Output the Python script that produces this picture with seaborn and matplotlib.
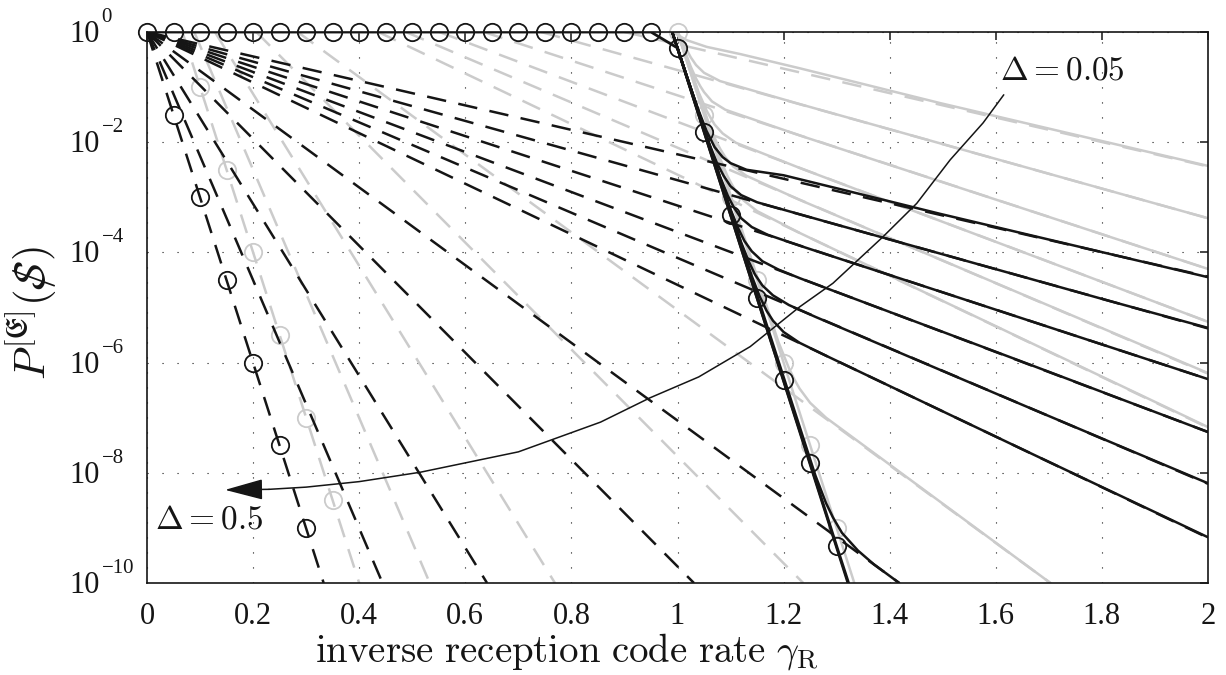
import numpy as np
import pandas as pd
import matplotlib
matplotlib.use("Agg")
import matplotlib.pyplot as plt
from matplotlib.ticker import FixedLocator, FixedFormatter, NullLocator, NullFormatter
from matplotlib.transforms import offset_copy
import seaborn as sns

# ---------------- data (log10 of P) ----------------
# black dashed lines: all start at (0, 10^0)
black_dash_end_x = [2.0, 2.0, 2.0, 2.0, 2.0, 2.0, 1.418, 1.031, 0.641, 0.444, 0.333]
black_dash_end_e = [-4.44, -5.38, -6.30, -7.26, -8.20, -9.18, -10, -10, -10, -10, -10]

# gray dashed lines: start on the top edge, end on right / bottom edge
gray_dash_start_x = [0.90, 0.743, 0.635, 0.551, 0.488, 0.436, 0.284, 0.206, 0.128, 0.089, 0.0667]
gray_dash_end_x = [2.0, 2.0, 2.0, 2.0, 2.0, 2.0, 1.703, 1.237, 0.769, 0.533, 0.40]
gray_dash_end_e = [-2.44, -3.38, -4.30, -5.26, -6.20, -7.18, -10, -10, -10, -10, -10]

# black solid curves
black_solid_x = [
    [0.99, 1.02, 1.04, 1.055, 1.07, 1.085, 1.10, 1.13, 1.2, 1.306, 1.495, 2.0],
    [0.99, 1.06, 1.075, 1.087, 1.10, 1.12, 1.15, 1.231, 1.81, 2.0],
    [0.99, 1.08, 1.095, 1.106, 1.12, 1.14, 1.17, 1.231, 1.546, 2.0],
    [0.99, 1.10, 1.115, 1.126, 1.14, 1.16, 1.19, 1.231, 1.646, 2.0],
    [0.99, 1.12, 1.135, 1.146, 1.16, 1.18, 1.21, 1.26, 1.646, 2.0],
    [0.99, 1.14, 1.155, 1.168, 1.18, 1.20, 1.23, 1.28, 1.646, 2.0],
    [0.99, 1.26, 1.28, 1.293, 1.31, 1.34, 1.37, 1.418],
    [0.99, 1.321],
]
black_solid_e = [
    [0, -0.88, -1.43, -1.80, -2.09, -2.27, -2.38, -2.50, -2.60, -2.85, -3.30, -4.45],
    [0, -2.03, -2.39, -2.61, -2.80, -2.96, -3.09, -3.31, -4.87, -5.37],
    [0, -2.62, -2.975, -3.18, -3.38, -3.54, -3.68, -3.88, -4.87, -6.30],
    [0, -3.22, -3.575, -3.79, -3.98, -4.16, -4.31, -4.47, -5.97, -7.26],
    [0, -3.82, -4.18, -4.40, -4.60, -4.78, -4.955, -5.17, -6.75, -8.19],
    [0, -4.43, -4.80, -5.06, -5.24, -5.445, -5.64, -5.875, -7.555, -9.17],
    [0, -8.05, -8.55, -8.81, -9.09, -9.41, -9.66, -10.0],
    [0, -10.0],
]

# gray solid curves
gray_solid_x = [
    [0.99, 1.018, 1.055, 1.118, 1.231, 1.495, 2.0],
    [1.0, 1.01, 1.02, 1.025, 1.035, 1.05, 1.08, 1.231, 2.0],
    [1.0, 1.01, 1.025, 1.035, 1.043, 1.05, 1.065, 1.09, 1.231, 2.0],
    [1.0, 1.04, 1.055, 1.062, 1.07, 1.085, 1.11, 1.231, 2.0],
    [1.0, 1.06, 1.073, 1.081, 1.09, 1.105, 1.13, 1.231, 2.0],
    [1.0, 1.08, 1.094, 1.102, 1.11, 1.125, 1.15, 1.231, 2.0],
    [1.0, 1.19, 1.21, 1.22, 1.23, 1.25, 1.28, 1.703],
]
gray_solid_e = [
    [0, -0.15, -0.27, -0.40, -0.66, -1.29, -2.43],
    [0, -0.16, -0.37, -0.46, -0.60, -0.74, -0.89, -1.31, -3.38],
    [0, -0.25, -0.63, -0.845, -0.985, -1.09, -1.26, -1.41, -1.88, -4.30],
    [0, -1.10, -1.43, -1.55, -1.68, -1.84, -2.01, -2.47, -5.26],
    [0, -1.69, -1.985, -2.13, -2.27, -2.44, -2.61, -3.05, -6.19],
    [0, -2.29, -2.61, -2.76, -2.89, -3.06, -3.25, -3.65, -7.17],
    [0, -5.62, -6.10, -6.30, -6.47, -6.73, -7.00, -10.0],
]

# circle-marked curves
blk_circ_x = [0, 0.05, 0.1, 0.15, 0.2, 0.25, 0.3, 0.35, 0.4, 0.45, 0.5, 0.55, 0.6, 0.65,
              0.7, 0.75, 0.8, 0.85, 0.9, 0.95, 1.0, 1.05, 1.1, 1.15, 1.2, 1.25, 1.3, 1.3225]
blk_circ_e = [0] * 20 + [-0.29, -1.81, -3.32, -4.83, -6.32, -7.82, -9.33, -10.0]
blk_dcirc_x = [0.05, 0.1, 0.15, 0.2, 0.25, 0.3]
blk_dcirc_e = [-1.5, -3.0, -4.5, -6.0, -7.5, -9.0]
gry_dcirc_x = [0.1, 0.15, 0.2, 0.25, 0.3, 0.35]
gry_dcirc_e = [-1.0, -2.5, -4.0, -5.5, -7.0, -8.5]
gry_circ_x = [0, 1.0, 1.05, 1.1, 1.15, 1.2, 1.25, 1.3, 1.3333]
gry_circ_e = [0, 0, -1.5, -3.0, -4.5, -6.0, -7.5, -9.0, -10.0]

# annotation arrow path
arrow_x = [1.615, 1.576, 1.514, 1.451, 1.387, 1.293, 1.23, 1.137, 1.04, 0.948, 0.855,
           0.70, 0.515, 0.40, 0.30, 0.23]
arrow_e = [-1.14, -1.65, -2.32, -3.11, -3.72, -4.56, -4.99, -5.71, -6.26, -6.64, -7.08,
           -7.62, -7.99, -8.16, -8.26, -8.30]
arrow_tip = (0.147, -8.31)

x_ticks = [0, 0.2, 0.4, 0.6, 0.8, 1.0, 1.2, 1.4, 1.6, 1.8, 2.0]
x_ticklabels = ["0", "0.2", "0.4", "0.6", "0.8", "1", "1.2", "1.4", "1.6", "1.8", "2"]
y_ticks_e = [0, -2, -4, -6, -8, -10]
y_tick_exp_labels = ["0", "\u22122", "\u22124", "\u22126", "\u22128", "\u221210"]

# ---------------- styling ----------------
sns.set_theme(style="white")
plt.rcParams["font.family"] = ["Liberation Serif", "DejaVu Serif"]
plt.rcParams["mathtext.fontset"] = "stix"
plt.rcParams["lines.scale_dashes"] = False

BLACK = "#151515"
GRAY = "#cbcbcb"
DASH = (0, (14, 9))
LW = 1.8

fig = plt.figure(figsize=(12.26, 6.75), dpi=100)
ax = fig.add_axes([147 / 1226, 1 - 583 / 675, (1208 - 147) / 1226, (583 - 32) / 675])
ax.set_yscale("log")


def P(e):
    return np.power(10.0, np.asarray(e, dtype=float))


def line(xs, es, color, ls="-", lw=LW, z=2):
    df = pd.DataFrame({"x": xs, "y": P(es)})
    sns.lineplot(data=df, x="x", y="y", ax=ax, color=color, linestyle=ls,
                 linewidth=lw, estimator=None, sort=False, zorder=z)


# gray dashed
for sx, ex, ee in zip(gray_dash_start_x, gray_dash_end_x, gray_dash_end_e):
    line([sx, ex], [0, ee], GRAY, DASH, z=2)
# gray solid
for xs, es in zip(gray_solid_x, gray_solid_e):
    line(xs, es, GRAY, "-", z=2.2)
line(gry_circ_x, gry_circ_e, GRAY, "-", z=2.2)

# black dashed
for ex, ee in zip(black_dash_end_x, black_dash_end_e):
    line([0, ex], [0, ee], BLACK, DASH, z=3)
# black solid
for xs, es in zip(black_solid_x, black_solid_e):
    line(xs, es, BLACK, "-", z=3.2)
line(blk_circ_x, blk_circ_e, BLACK, "-", lw=2.0, z=3.3)

# circle markers
mk = dict(linestyle="none", marker="o", markersize=12.5, markerfacecolor="none",
          markeredgewidth=1.3, clip_on=False)
ax.plot(gry_circ_x[1:8], P(gry_circ_e[1:8]), markeredgecolor=GRAY, zorder=2.5, **mk)
ax.plot(gry_dcirc_x, P(gry_dcirc_e), markeredgecolor=GRAY, zorder=2.5, **mk)
ax.plot(blk_dcirc_x, P(blk_dcirc_e), markeredgecolor=BLACK, zorder=4, **mk)
ax.plot(blk_circ_x[:27], P(blk_circ_e[:27]), markeredgecolor=BLACK, zorder=4, **mk)

# annotation curve + arrow
ax.plot(arrow_x, P(arrow_e), color=BLACK, linewidth=1.1, zorder=5)
ax.annotate("", xy=(arrow_tip[0], P(arrow_tip[1])),
            xytext=(arrow_x[-1], P(arrow_e[-1])),
            arrowprops=dict(arrowstyle="-|>,head_length=2.4,head_width=0.65",
                            mutation_scale=10, color=BLACK, lw=1.1,
                            shrinkA=0, shrinkB=0), zorder=5)
ax.text(1.608, P(-0.72), r"$\Delta = 0.05$", fontsize=24, ha="left", va="center",
        color=BLACK, zorder=6, math_fontfamily="cm")
ax.text(0.015, P(-8.87), r"$\Delta = 0.5$", fontsize=24, ha="left", va="center",
        color=BLACK, zorder=6, math_fontfamily="cm")

# axes
ax.set_xlim(0, 2)
ax.set_ylim(1e-10, 1)
ax.xaxis.set_major_locator(FixedLocator(x_ticks))
ax.xaxis.set_major_formatter(FixedFormatter(x_ticklabels))
ax.yaxis.set_major_locator(FixedLocator(P(y_ticks_e)))
ax.yaxis.set_major_formatter(NullFormatter())
ax.yaxis.set_minor_locator(NullLocator())
ax.xaxis.set_minor_locator(NullLocator())
ax.tick_params(axis="both", which="major", direction="in", length=6, width=1.1,
               top=True, right=True, labelsize=22, colors=BLACK)
ax.tick_params(axis="x", pad=14)
for sp in ax.spines.values():
    sp.set_linewidth(1.2)
    sp.set_color(BLACK)
    sp.set_zorder(6)
ax.grid(True, which="major", color=BLACK, linestyle=(0, (0.8, 10)), linewidth=0.8)
ax.set_axisbelow(True)

# MATLAB-style log tick labels: "10" with a raised exponent
ytr = ax.get_yaxis_transform()
base_tr = offset_copy(ytr, fig=fig, x=0, y=-10, units="dots")
exp_tr = offset_copy(ytr, fig=fig, x=0, y=10, units="dots")
for e, lab in zip(y_ticks_e, y_tick_exp_labels):
    ax.text(-0.0443, P(e), "10", transform=base_tr, ha="right", va="baseline",
            fontsize=22, color=BLACK, clip_on=False)
    ax.text(-0.0428, P(e), lab, transform=exp_tr, ha="left", va="baseline",
            fontsize=15, color=BLACK, clip_on=False)

ax.set_xlabel(r"$\mathrm{inverse\ reception\ code\ rate}\ \gamma_{\mathrm{R}}$",
              fontsize=28, color=BLACK, math_fontfamily="cm")
ax.xaxis.set_label_coords(0.396, -0.088)
ax.set_ylabel(r"$P^{[\mathfrak{E}]}(\mathcal{S}\!\!\!\!/\,)$", fontsize=31,
              color=BLACK, math_fontfamily="cm")
ax.yaxis.set_label_coords(-0.083, 0.49)

fig.savefig("out.png", dpi=100)
